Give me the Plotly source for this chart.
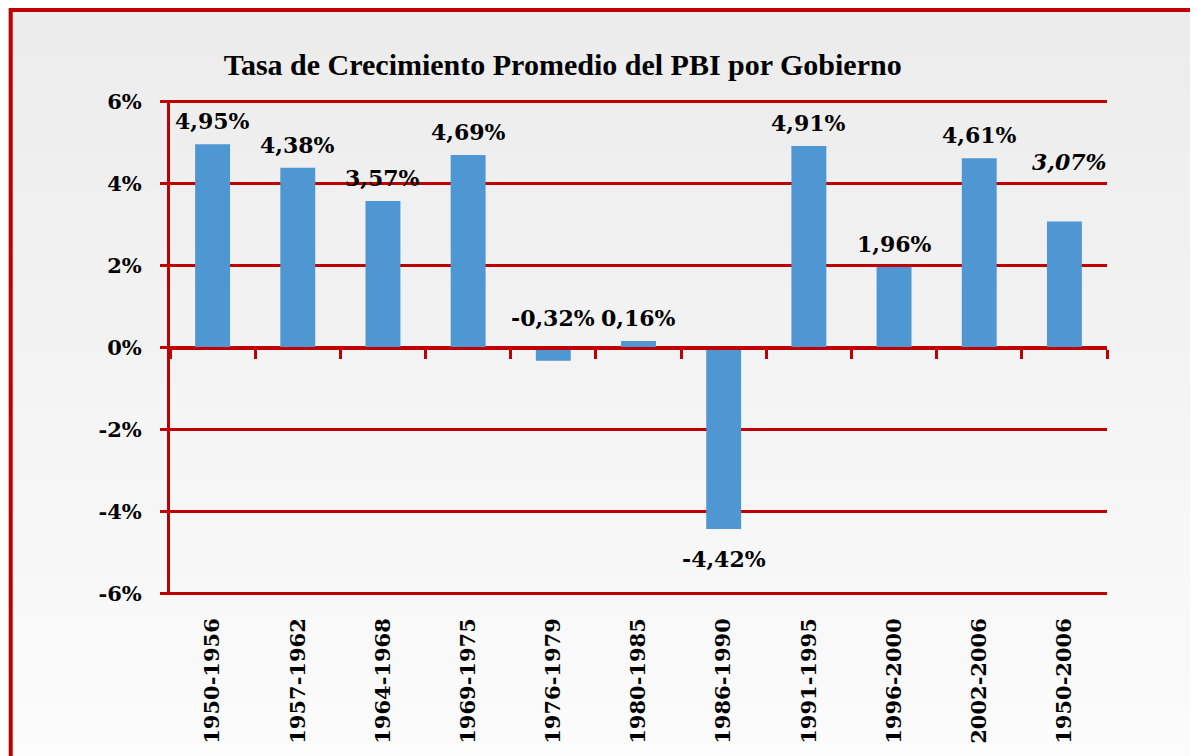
import plotly.graph_objects as go

# Data
periods = ["1950-1956", "1957-1962", "1964-1968", "1969-1975", "1976-1979",
           "1980-1985", "1986-1990", "1991-1995", "1996-2000", "2002-2006",
           "1950-2006"]
growth = [4.95, 4.38, 3.57, 4.69, -0.32, 0.16, -4.42, 4.91, 1.96, 4.61, 3.07]
labels = ["4,95%", "4,38%", "3,57%", "4,69%", "-0,32%", "0,16%", "-4,42%",
          "4,91%", "1,96%", "4,61%", "3,07%"]
y_ticks = [6, 4, 2, 0, -2, -4, -6]
y_tick_text = ["6%", "4%", "2%", "0%", "-2%", "-4%", "-6%"]

RED = "#c00000"
BLUE = "#4f97d3"
SERIF = "Liberation Serif, Times New Roman, serif"
WIDE_SERIF = "DejaVu Serif, serif"

fig = go.Figure()

fig.add_trace(go.Bar(
    x=periods,
    y=growth,
    marker=dict(color=BLUE, line=dict(width=0)),
    width=0.41,
    hoverinfo="x+y",
))

# invisible trace to carry the zero-line axis with boundary ticks
fig.add_trace(go.Scatter(
    x=periods, y=[0] * len(periods), xaxis="x2",
    mode="markers", marker=dict(opacity=0), hoverinfo="skip",
))

# value labels
for i, (p, v, t) in enumerate(zip(periods, growth, labels)):
    last = i == len(periods) - 1
    if v >= 0:
        y, shift = v, 23
    elif v > -1:
        y, shift = 0, 30
    else:
        y, shift = v, -30
    if last:
        shift = 59
    fig.add_annotation(
        x=p, y=y, yshift=shift, xshift=5 if last else 0,
        text=f"<i>{t}</i>" if last else t,
        showarrow=False,
        font=dict(family=WIDE_SERIF, size=22, color="black", weight="bold"),
    )

# background gradient bands
n_bands = 24
top, bottom = 1.22, -0.36
for k in range(n_bands):
    g = int(236 + (252 - 236) * k / (n_bands - 1))
    y1 = top - k * (top - bottom) / n_bands
    y0 = y1 - (top - bottom) / n_bands - 0.002
    fig.add_shape(type="rect", xref="paper", yref="paper",
                  x0=-0.2, x1=1.2, y0=y0, y1=y1,
                  fillcolor=f"rgb({g},{g},{g})", line=dict(width=0),
                  layer="below")

# outer red frame
fig.add_shape(type="rect", xref="paper", yref="paper",
              x0=-0.170, x1=1.2, y0=-0.4, y1=1.1818,
              line=dict(color=RED, width=4), fillcolor="rgba(0,0,0,0)")

x_range = [-0.5, len(periods) - 0.5]

fig.update_layout(
    width=1198, height=756,
    margin=dict(l=162, r=99, t=92, b=169),
    paper_bgcolor="#f0f0f0",
    plot_bgcolor="rgba(0,0,0,0)",
    showlegend=False,
    title=dict(
        text="Tasa de Crecimiento Promedio del PBI por Gobierno",
        x=0.463, xanchor="center", y=0.925, yanchor="middle",
        font=dict(family=SERIF, size=30, color="black", weight="bold"),
    ),
    xaxis=dict(
        type="category",
        range=x_range,
        tickangle=-90,
        showgrid=False,
        showline=False,
        ticks="",
        ticklabelstandoff=18,
        tickfont=dict(family=WIDE_SERIF, size=21, color="black", weight="bold"),
    ),
    xaxis2=dict(
        type="category",
        overlaying="x",
        matches="x",
        range=x_range,
        anchor="free",
        position=0.5,
        side="bottom",
        showline=True, linecolor=RED, linewidth=3,
        ticks="outside", tickson="boundaries",
        ticklen=9, tickwidth=3, tickcolor=RED,
        showticklabels=False,
        showgrid=False,
    ),
    yaxis=dict(
        range=[-6.03, 6.03],
        tickvals=y_ticks,
        ticktext=y_tick_text,
        showgrid=True, gridcolor=RED, gridwidth=3,
        zeroline=False,
        showline=True, linecolor=RED, linewidth=3,
        ticks="outside", ticklen=7, tickwidth=3, tickcolor=RED,
        ticklabelstandoff=14,
        tickfont=dict(family=WIDE_SERIF, size=21, color="black", weight="bold"),
    ),
    bargap=0.3,
)

fig.write_html("out.html")
